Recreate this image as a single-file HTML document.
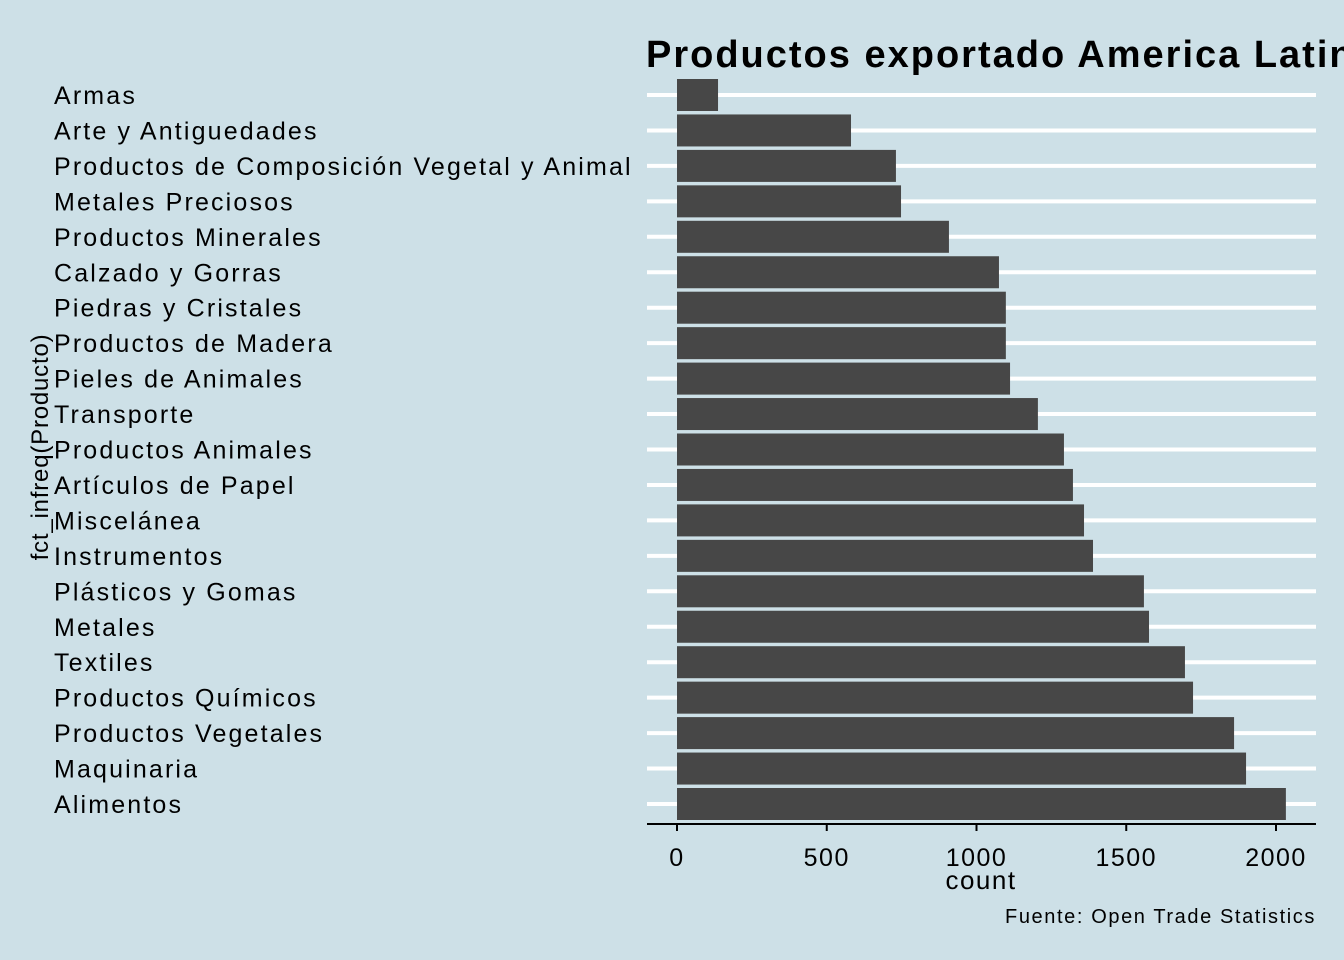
<!DOCTYPE html>
<html><head><meta charset="utf-8"><style>
body{margin:0;background:#cde0e7;}
svg{display:block;font-family:"Liberation Sans",Arial,sans-serif;}
</style></head><body>
<svg id="chart" width="1344" height="960">
<rect width="1344" height="960" fill="#cde0e7"/>
<text x="646" y="67" font-size="38" font-weight="bold" letter-spacing="2.0" fill="#000">Productos exportado America Latina</text>
<g id="grid"></g><g id="bars"></g><g id="ylabels"></g><g id="xaxis"></g>
<text transform="translate(48,447) rotate(-90)" text-anchor="middle" font-size="24" letter-spacing="0.8" fill="#000">fct_infreq(Producto)</text>
<text x="981" y="889" text-anchor="middle" font-size="26" letter-spacing="1.5" fill="#000">count</text>
<text x="1316" y="923" text-anchor="end" font-size="20" letter-spacing="1.6" fill="#000">Fuente: Open Trade Statistics</text>
</svg>
<script>
const categories=["Armas","Arte y Antiguedades","Productos de Composición Vegetal y Animal","Metales Preciosos","Productos Minerales","Calzado y Gorras","Piedras y Cristales","Productos de Madera","Pieles de Animales","Transporte","Productos Animales","Artículos de Papel","Miscelánea","Instrumentos","Plásticos y Gomas","Metales","Textiles","Productos Químicos","Productos Vegetales","Maquinaria","Alimentos"];
const counts=[137,581,731,748,908,1075,1098,1098,1112,1205,1292,1322,1359,1389,1559,1576,1696,1723,1860,1900,2033];
const xTicks=[0,500,1000,1500,2000];
const NS="http://www.w3.org/2000/svg";
const x=v=>677+v*(599/2000);
const y=i=>95+i*(709/20);
function mk(t,a,p){const e=document.createElementNS(NS,t);for(const k in a)e.setAttribute(k,a[k]);p.appendChild(e);return e;}
const grid=document.getElementById('grid'),bars=document.getElementById('bars'),yl=document.getElementById('ylabels'),xa=document.getElementById('xaxis');
categories.forEach((c,i)=>{
 const g=mk('line',{x1:647,x2:1316,y1:y(i),y2:y(i),stroke:'#fff','stroke-width':4},grid);
 
 
 const r=mk('rect',{x:x(0),y:y(i)-16,width:x(counts[i])-x(0),height:32,fill:'#474747'},bars);
 
 
 const t=mk('text',{x:54,y:y(i)+9,'font-size':25,'letter-spacing':2.15,fill:'#000'},yl);
 t.textContent=c;
 
 
});
const al=mk('line',{x1:647,x2:1316,y1:824,y2:824,stroke:'#000','stroke-width':2},xa);


xTicks.forEach(v=>{
 const tk=mk('line',{x1:x(v),x2:x(v),y1:824,y2:831,stroke:'#000','stroke-width':2},xa);
 
 
 const t=mk('text',{x:x(v),y:866,'text-anchor':'middle','font-size':25,'letter-spacing':1.5,fill:'#000'},xa);
 t.textContent=v;
 
 
});
</script>
</body></html>
